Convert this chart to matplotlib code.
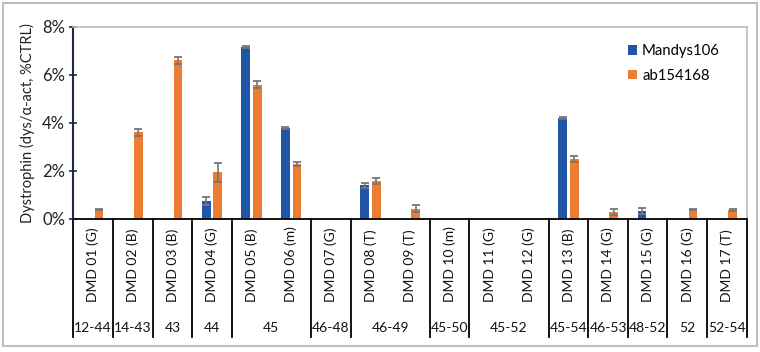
import matplotlib
matplotlib.use("Agg")
import matplotlib.pyplot as plt
import numpy as np
from matplotlib.patches import Rectangle
import matplotlib.transforms as mtransforms

plt.rcParams['font.family'] = ['Lato', 'DejaVu Sans']

categories = ["DMD 01 (G)", "DMD 02 (B)", "DMD 03 (B)", "DMD 04 (G)", "DMD 05 (B)",
              "DMD 06 (m)", "DMD 07 (G)", "DMD 08 (T)", "DMD 09 (T)", "DMD 10 (m)",
              "DMD 11 (G)", "DMD 12 (G)", "DMD 13 (B)", "DMD 14 (G)", "DMD 15 (G)",
              "DMD 16 (G)", "DMD 17 (T)"]
mandys106 = [0, 0, 0, 0.74, 7.15, 3.79, 0, 1.39, 0, 0, 0, 0, 4.19, 0, 0.32, 0, 0]
mandys106_err = [0, 0, 0, 0.17, 0.03, 0.04, 0, 0.11, 0, 0, 0, 0, 0.03, 0, 0.14, 0, 0]
ab154168 = [0.38, 3.6, 6.6, 1.93, 5.58, 2.28, 0, 1.58, 0.42, 0, 0, 0, 2.5, 0.27, 0, 0.39, 0.35]
ab154168_err = [0.02, 0.14, 0.15, 0.4, 0.14, 0.09, 0, 0.13, 0.13, 0, 0, 0, 0.13, 0.12, 0, 0.02, 0.04]
group_labels = ["12-44", "14-43", "43", "44", "45", "46-48", "46-49", "45-50",
                "45-52", "45-54", "46-53", "48-52", "52", "52-54"]
group_sizes = [1, 1, 1, 1, 2, 1, 2, 1, 2, 1, 1, 1, 1, 1]
yticks = [0, 2, 4, 6, 8]
ytick_labels = ["0%", "2%", "4%", "6%", "8%"]

blue = "#1F56A6"
orange = "#ED7D31"
errc = "#767676"

fig = plt.figure(figsize=(7.6, 3.52), dpi=100)
ax = fig.add_axes([0.0965, 0.379, 0.886, 0.545])

x = np.arange(len(categories))
w = 0.22
off = 0.145
ax.bar(x - off, mandys106, w, color=blue, label="Mandys106", zorder=2)
ax.bar(x + off, ab154168, w, color=orange, label="ab154168", zorder=2)
mb = [i for i, v in enumerate(mandys106) if v > 0]
ob = [i for i, v in enumerate(ab154168) if v > 0]
ax.errorbar(x[mb] - off, np.array(mandys106)[mb], yerr=np.array(mandys106_err)[mb],
            fmt='none', ecolor=errc, elinewidth=1.2, capsize=3.2, capthick=1.3, zorder=3)
ax.errorbar(x[ob] + off, np.array(ab154168)[ob], yerr=np.array(ab154168_err)[ob],
            fmt='none', ecolor=errc, elinewidth=1.2, capsize=3.2, capthick=1.3, zorder=3)

ax.set_xlim(-0.5, len(categories) - 0.5)
ax.set_ylim(0, 8)
ax.set_yticks(yticks)
ax.set_yticklabels(ytick_labels, fontsize=12, color="#222222")
ax.set_xticks([])
ax.tick_params(axis='y', direction='inout', length=6, width=1.2, color="#1c2b4a", pad=3)
ax.set_ylabel("Dystrophin (dys/α-act, %CTRL)", fontsize=10.5, color="#222222", labelpad=5)

for s in ['top', 'right']:
    ax.spines[s].set_color("#BFBFBF")
    ax.spines[s].set_linewidth(1.2)
ax.spines['left'].set_color("#1c2b4a")
ax.spines['left'].set_linewidth(1.5)
ax.spines['bottom'].set_color("black")
ax.spines['bottom'].set_linewidth(1.3)

trans = mtransforms.blended_transform_factory(ax.transData, ax.transAxes)
for i, c in enumerate(categories):
    ax.text(i, -0.434, c, rotation=90, ha='center', va='bottom', fontsize=10,
            transform=trans, color="#111111")
bounds = [-0.5]
pos = -0.5
for g in group_sizes:
    pos += g
    bounds.append(pos)
for b in bounds:
    ax.plot([b, b], [0, -0.615], color='black', lw=1.3, transform=trans, clip_on=False)
for lab, a, b in zip(group_labels, bounds[:-1], bounds[1:]):
    ax.text((a + b) / 2, -0.569, lab, ha='center', va='center', fontsize=10,
            transform=trans, color="#111111")

leg = ax.legend(loc='upper right', bbox_to_anchor=(0.969, 0.94), frameon=False,
                fontsize=10.7, handlelength=0.6, handleheight=0.6, handletextpad=0.35,
                labelspacing=0.7, borderaxespad=0)

fig.patches.append(Rectangle((3 / 760, 1 - 346 / 352), 754 / 760, 343 / 352,
                             transform=fig.transFigure, fill=False,
                             edgecolor="#BFBFBF", linewidth=1.5))

fig.savefig("out.png", dpi=100)
